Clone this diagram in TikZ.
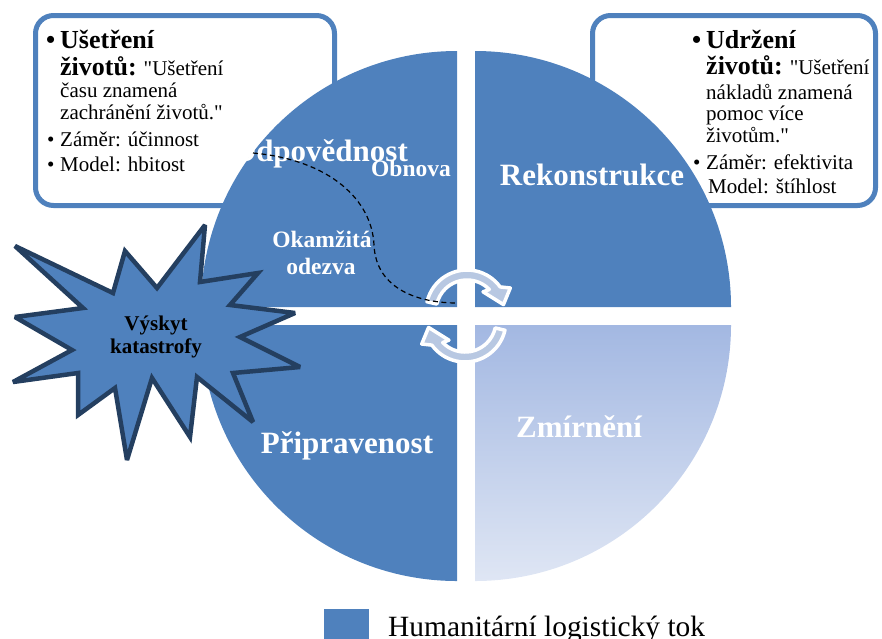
\documentclass[tikz,border=0pt]{standalone}
\usepackage{fontspec}
\setmainfont{Liberation Serif}[Ligatures=TeXOff]
\definecolor{qblue}{HTML}{4F81BD}
\definecolor{navy}{HTML}{243F60}
\definecolor{arrowfill}{HTML}{B8C8E2}
\definecolor{mtop}{HTML}{A3B8E2}
\definecolor{mbot}{HTML}{DFE6F4}
\begin{document}
\begin{tikzpicture}[x=1pt,y=-1pt,
  boxframe/.style={draw=qblue, line width=5pt, fill=white, rounded corners=18pt},
  qlabel/.style={text=white, font=\fontsize{31}{31}\selectfont\bfseries, inner sep=0pt, anchor=base},
  sublabel/.style={text=white, font=\fontsize{23.5}{23.5}\selectfont\bfseries, inner sep=0pt, anchor=base},
  btext/.style={font=\fontsize{21}{21}\selectfont, inner sep=0pt, anchor=base west},
  bhead/.style={font=\fontsize{26}{26}\selectfont\bfseries, inner sep=0pt, anchor=base west},
  bul/.style={font=\fontsize{21}{21}\selectfont, inner sep=0pt, anchor=base west},
  cyc/.style={fill=arrowfill, draw=white, line width=3.5pt, line join=round},
  startxt/.style={font=\fontsize{21}{21}\selectfont\bfseries, inner sep=0pt, anchor=base},
]
\useasboundingbox (0,0) rectangle (882,638);

% text boxes (behind the circle)
\draw[boxframe] (35.5,15.5) rectangle (334.5,205.5);
\draw[boxframe] (592.5,15.5) rectangle (875.5,205.5);

% quadrants
\fill[qblue] (457,307) -- (457,51) arc[start angle=90,end angle=180,radius=256pt] -- cycle;
\fill[qblue] (475,307) -- (475,51) arc[start angle=90,end angle=0,radius=256pt] -- cycle;
\fill[qblue] (457,325) -- (457,581) arc[start angle=270,end angle=180,radius=256pt] -- cycle;
\shade[top color=mtop,bottom color=mbot] (475,325) -- (475,581) arc[start angle=270,end angle=360,radius=256pt] -- cycle;

% left box text
\node[bhead] (lb1) at (46,48) {\textbullet};
\node[bhead] (lh1) at (60,48) {Ušetření};
\node[btext] (lh2) at (60,75) {{\fontsize{26}{26}\selectfont\bfseries životů:} "Ušetření};
\node[btext] (lt3) at (60,97) {času znamená};
\node[btext] (lt4) at (60,119) {zachránění životů."};
\node[bul] (lb5) at (47,146) {\textbullet};
\node[btext] (lt5) at (60,146) {Záměr: účinnost};
\node[bul] (lb6) at (47,171) {\textbullet};
\node[btext] (lt6) at (60,171) {Model: hbitost};

% right box text
\node[bhead] (rb1) at (692,48) {\textbullet};
\node[bhead] (rh1) at (706,48) {Udržení};
\node[btext] (rh2) at (706,74) {{\fontsize{26}{26}\selectfont\bfseries životů:} "Ušetření};
\node[btext] (rt3) at (706,99) {nákladů znamená};
\node[btext] (rt4) at (706,120) {pomoc více};
\node[btext] (rt5) at (706,142) {životům."};
\node[bul] (rb6) at (693,169) {\textbullet};
\node[btext] (rt6) at (706,169) {Záměr: efektivita};
\node[btext] (rt7) at (708,193) {Model: štíhlost};

% quadrant labels
\node[qlabel] (odp) at (320,161) {Odpovědnost};
\node[sublabel] (obn) at (411,176) {Obnova};
\node[sublabel] (oka) at (322,247) {Okamžitá};
\node[sublabel] (ode) at (321,274) {odezva};
\node[qlabel] (rek) at (592,185) {Rekonstrukce};
\node[qlabel] (pri) at (347,453) {Připravenost};
\node[qlabel] (zmi) at (579,437) {Zmírnění};

% cycle arrows
\begin{scope}[shift={(467,311)}]
\path[cyc] (167:41pt) arc[start angle=167,end angle=36,radius=41pt] -- (28:49pt) -- (10:37pt) -- (50:25pt) -- (44:31pt) arc[start angle=44,end angle=167,radius=31pt] -- cycle;
\end{scope}
\begin{scope}[shift={(465,321)}, rotate=180]
\path[cyc] (167:41pt) arc[start angle=167,end angle=36,radius=41pt] -- (28:49pt) -- (10:37pt) -- (50:25pt) -- (44:31pt) arc[start angle=44,end angle=167,radius=31pt] -- cycle;
\end{scope}

% dashed path
\coordinate (ds) at (253,153);
\coordinate (dm) at (374,245);
\coordinate (de) at (457,303);
\draw[line width=1.2pt, dash pattern=on 5pt off 3.5pt] (ds) .. controls (330,160) and (372,200) .. (dm) .. controls (376,290) and (420,303) .. (de);

% explosion
\draw[fill=qblue, draw=navy, line width=4.5pt, line join=miter, miter limit=3]
 (15,246) -- (113,293) -- (125,251) -- (157,288) -- (205,225) -- (200,282) -- (258,273) -- (230,305)
 -- (295,313) -- (240,337) -- (300,367) -- (233,373) -- (253,422) -- (197,377) -- (190,437)
 -- (152,378) -- (127,460) -- (115,388) -- (78,415) -- (78,373) -- (13,382) -- (72,350)
 -- (15,317) -- (83,308) -- cycle;
\node[startxt] (st1) at (156,330) {Výskyt};
\node[startxt] (st2) at (156,353) {katastrofy};

% legend
\fill[qblue] (324,609) rectangle (369,642);
\node[anchor=base west, font=\fontsize{29.4}{29.4}\selectfont, inner sep=0pt] (leg) at (388,636) {Humanitární logistický tok};
\end{tikzpicture}
\end{document}
